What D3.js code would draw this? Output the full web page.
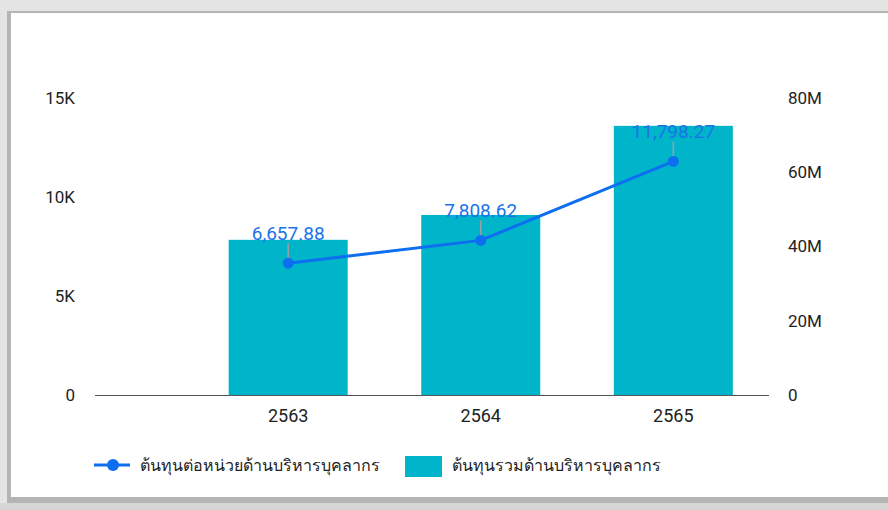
<!DOCTYPE html>
<html>
<head>
<meta charset="utf-8">
<script src="https://cdn.jsdelivr.net/npm/d3@7"></script>
<style>
  html, body { margin: 0; padding: 0; background: #fff; }
  svg { display: block; font-family: Roboto, "Noto Sans", sans-serif; }
</style>
</head>
<body>
<div id="chart"></div>
<script>
// data
var years      = ['2563', '2564', '2565'];
var unitCost   = [6657.88, 7808.62, 11798.27];          // line, left axis
var totalCost  = [41800000, 48500000, 72500000];        // bars, right axis
var leftTicks  = [0, 5000, 10000, 15000];
var rightTicks = [0, 20000000, 40000000, 60000000, 80000000];
var seriesNames = ['ต้นทุนต่อหน่วยด้านบริหารบุคลากร', 'ต้นทุนรวมด้านบริหารบุคลากร'];

var W = 888, H = 510;
var plot = { left: 95, right: 769, top: 98, bottom: 395 };

var svg = d3.select('#chart').append('svg')
    .attr('width', W).attr('height', H);

// card frame (grey shadowed edges)
svg.append('rect').attr('width', W).attr('height', H).attr('fill', '#e4e4e4');
svg.append('rect').attr('x', 7).attr('y', 11).attr('width', W - 7).attr('height', 492).attr('fill', '#b4b4b4');
svg.append('rect').attr('x', 11).attr('y', 13).attr('width', W - 11).attr('height', 484).attr('fill', '#fff');
svg.append('rect').attr('x', 0).attr('y', 503).attr('width', W).attr('height', 7).attr('fill', '#d6d6d6');

var x = d3.scaleBand()
    .domain(years)
    .range([plot.left, plot.right])
    .paddingInner(0.382)
    .paddingOuter(0.441)
    .align(0.787);

var yL = d3.scaleLinear().domain([0, 15000]).range([plot.bottom, plot.top]);
var yR = d3.scaleLinear().domain([0, 80000000]).range([plot.bottom, plot.top]);

// bars
svg.append('g').selectAll('rect')
    .data(totalCost)
    .enter().append('rect')
    .attr('x', function (d, i) { return x(years[i]); })
    .attr('width', x.bandwidth())
    .attr('y', function (d) { return yR(d); })
    .attr('height', function (d) { return yR(0) - yR(d); })
    .attr('fill', '#00b5c9');

// left axis
var axL = svg.append('g')
    .attr('transform', 'translate(' + (plot.left - 20) + ',0)')
    .call(d3.axisLeft(yL).tickValues(leftTicks).tickSize(0).tickPadding(0)
        .tickFormat(function (d) { return d === 0 ? '0' : (d / 1000) + 'K'; }));
axL.select('.domain').remove();
axL.selectAll('text').attr('font-size', 17).attr('fill', '#222').attr('font-family', 'Roboto');

// right axis
var axR = svg.append('g')
    .attr('transform', 'translate(' + (plot.right + 19) + ',0)')
    .call(d3.axisRight(yR).tickValues(rightTicks).tickSize(0).tickPadding(0)
        .tickFormat(function (d) { return d === 0 ? '0' : (d / 1e6) + 'M'; }));
axR.select('.domain').remove();
axR.selectAll('text').attr('font-size', 17).attr('fill', '#222').attr('font-family', 'Roboto');

// x axis baseline + labels
svg.append('line')
    .attr('x1', plot.left).attr('x2', plot.right)
    .attr('y1', plot.bottom + 0.5).attr('y2', plot.bottom + 0.5)
    .attr('stroke', '#555').attr('stroke-width', 1);
var axX = svg.append('g')
    .attr('transform', 'translate(0,' + (plot.bottom + 14) + ')')
    .call(d3.axisBottom(x).tickSize(0).tickPadding(0));
axX.select('.domain').remove();
axX.selectAll('text').attr('font-size', 18).attr('fill', '#222').attr('font-family', 'Roboto')
    .attr('dy', '0.71em');

// line series
var cx = function (i) { return x(years[i]) + x.bandwidth() / 2; };
var line = d3.line()
    .x(function (d, i) { return cx(i); })
    .y(function (d) { return yL(d); });

svg.append('path')
    .datum(unitCost)
    .attr('d', line)
    .attr('fill', 'none')
    .attr('stroke', '#0d6ff0')
    .attr('stroke-width', 3);

// leader lines + labels
var lab = svg.append('g');
unitCost.forEach(function (d, i) {
    lab.append('line')
        .attr('x1', cx(i)).attr('x2', cx(i))
        .attr('y1', yL(d) - 4).attr('y2', yL(d) - 20)
        .attr('stroke', '#9e9e9e').attr('stroke-width', 1.5);
    lab.append('text')
        .attr('x', cx(i)).attr('y', yL(d) - 23)
        .attr('text-anchor', 'middle')
        .attr('font-size', 19)
        .attr('fill', '#1a73e8')
        .text(d3.format(',.2f')(d));
});

svg.append('g').selectAll('circle')
    .data(unitCost)
    .enter().append('circle')
    .attr('cx', function (d, i) { return cx(i); })
    .attr('cy', function (d) { return yL(d); })
    .attr('r', 5.5)
    .attr('fill', '#0d6ff0');

// legend
var lg = svg.append('g').attr('transform', 'translate(0,465)');
lg.append('line').attr('x1', 94).attr('x2', 130).attr('y1', 0).attr('y2', 0)
    .attr('stroke', '#0d6ff0').attr('stroke-width', 3);
lg.append('circle').attr('cx', 113).attr('cy', 0).attr('r', 6).attr('fill', '#0d6ff0');
lg.append('text').attr('x', 140).attr('y', 6).attr('font-size', 16).attr('fill', '#222')
    .text(seriesNames[0]);
lg.append('rect').attr('x', 405).attr('y', -9).attr('width', 37).attr('height', 21).attr('fill', '#00b5c9');
lg.append('text').attr('x', 452).attr('y', 6).attr('font-size', 16).attr('fill', '#222')
    .text(seriesNames[1]);
</script>
</body>
</html>
